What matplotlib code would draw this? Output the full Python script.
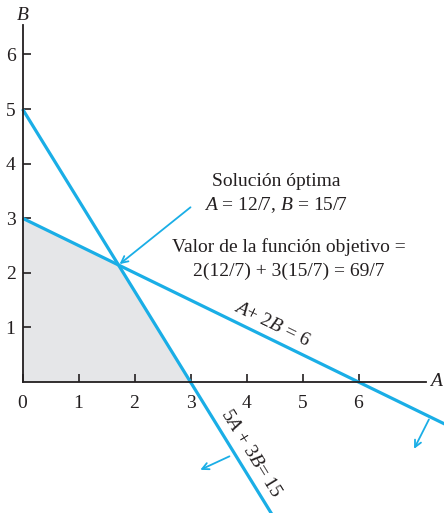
import matplotlib
matplotlib.use("Agg")
import matplotlib.pyplot as plt
import numpy as np

plt.rcParams['font.family'] = ['Liberation Serif', 'DejaVu Serif']
plt.rcParams['mathtext.fontset'] = 'custom'
plt.rcParams['mathtext.rm'] = 'Liberation Serif'
plt.rcParams['mathtext.it'] = 'Liberation Serif:italic'

# Data
x_ticks = [0, 1, 2, 3, 4, 5, 6]
y_ticks = [1, 2, 3, 4, 5, 6]
# constraint 1: 5A + 3B = 15 ; constraint 2: A + 2B = 6
c1 = (5, 3, 15)
c2 = (1, 2, 6)
opt = (12/7, 15/7)
feasible_A = [0, 0, 12/7, 3]
feasible_B = [0, 3, 15/7, 0]

BLUE = '#1aaee6'
TXT = '#231f20'
FS = 14

fig = plt.figure(figsize=(4.44, 5.13), dpi=100)
ax = fig.add_axes([0, 0, 1, 1])
ax.set_xlim(-22.5/56, (444-22.5)/56)
ax.set_ylim(-(513-382)/54.6, 382/54.6)

ax.fill(feasible_A, feasible_B, color='#e5e6e8', zorder=1, lw=0)

# line 1
bb = np.array([5.0, -3.0])
aa = (c1[2] - c1[1]*bb) / c1[0]
ax.plot(aa, bb, color=BLUE, lw=2.3, zorder=3, solid_capstyle='butt')
# line 2
aa2 = np.array([0, 8.0])
bb2 = (c2[2] - c2[0]*aa2) / c2[1]
ax.plot(aa2, bb2, color=BLUE, lw=2.3, zorder=3, solid_capstyle='butt')

# direction arrows
ax.annotate('', xy=(3.13, -1.63), xytext=(3.74, -1.34),
            arrowprops=dict(arrowstyle='->', color=BLUE, lw=1.3, mutation_scale=12))
ax.annotate('', xy=(6.97, -1.27), xytext=(7.28, -0.64),
            arrowprops=dict(arrowstyle='->', color=BLUE, lw=1.3, mutation_scale=12))

# optimum annotation arrow
ax.annotate('', xy=opt, xytext=(3.0, 3.2),
            arrowprops=dict(arrowstyle='->', color=BLUE, lw=1.3, mutation_scale=12,
                            shrinkA=0, shrinkB=1))

# axes
for s in ['top', 'right']:
    ax.spines[s].set_visible(False)
ax.spines['left'].set_position(('data', 0))
ax.spines['bottom'].set_position(('data', 0))
ax.spines['left'].set_bounds(0, (382-25)/54.6)
ax.spines['bottom'].set_bounds(0, (426-22.5)/56)
for s in ['left', 'bottom']:
    ax.spines[s].set_color(TXT)
    ax.spines[s].set_linewidth(1.3)
    ax.spines[s].set_zorder(4)

ax.set_xticks(x_ticks)
ax.set_yticks(y_ticks)
ax.set_xticklabels([str(t) for t in x_ticks])
ax.set_yticklabels([str(t) for t in y_ticks])
ax.tick_params(axis='both', direction='in', length=6, width=1.2, color=TXT,
               labelsize=FS, labelcolor=TXT)
ax.tick_params(axis='x', pad=9)
ax.tick_params(axis='y', pad=5)

ax.text((437-22.5)/56, 0, '$A$', fontsize=FS, color=TXT, ha='center', va='center')
ax.text(0, (382-15)/54.6, '$B$', fontsize=FS, color=TXT, ha='center', va='center')

ax.text((276-22.5)/56, (382-182)/54.6, 'Solución óptima', fontsize=FS, color=TXT,
        ha='center', va='center')
ax.text((276-22.5)/56, (382-205)/54.6, '$A$ = 12/7, $B$ = 15/7', fontsize=FS, color=TXT,
        ha='center', va='center')
ax.text((289-22.5)/56, (382-247)/54.6, 'Valor de la función objetivo =', fontsize=FS,
        color=TXT, ha='center', va='center')
ax.text((289-22.5)/56, (382-271)/54.6, '2(12/7) + 3(15/7) = 69/7', fontsize=FS,
        color=TXT, ha='center', va='center')

ax.text((272-22.5)/56, (382-324)/54.6, '$A$+ 2$B$ = 6', fontsize=FS, color=TXT,
        ha='center', va='center', rotation=-26, rotation_mode='anchor')
ax.text((251-22.5)/56, -(453-382)/54.6, '5$A$ + 3$B$= 15', fontsize=FS, color=TXT,
        ha='center', va='center', rotation=-58.4, rotation_mode='anchor')

fig.savefig('out.png', dpi=100)
